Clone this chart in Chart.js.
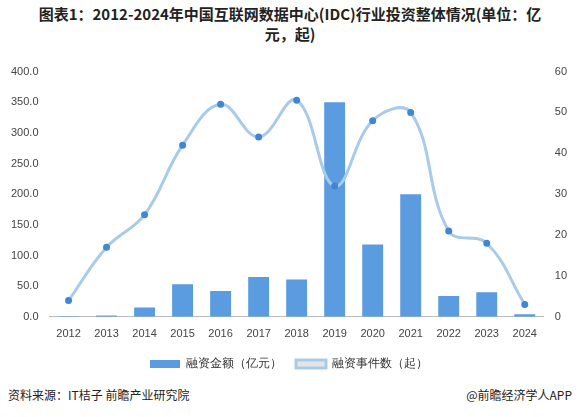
<!DOCTYPE html>
<html><head><meta charset="utf-8">
<script src="https://cdn.jsdelivr.net/npm/chart.js@4"></script>
<style>
body{margin:0;width:580px;height:417px;background:#fff;font-family:"Noto Sans CJK SC",sans-serif;position:relative;overflow:hidden}
#title{position:absolute;top:4px;left:10px;width:560px;text-align:center;font-weight:bold;font-size:15px;line-height:20px;color:#222}
#wrap{position:absolute;top:62px;left:8px;width:566px;height:318px}
#foot{position:absolute;top:386px;left:8px;right:8px;font-size:12px;color:#222}
#foot span{float:right}
</style></head><body>
<div id="title">图表1：2012-2024年中国互联网数据中心(IDC)行业投资整体情况(单位：亿<br>元，起)</div>
<div id="wrap"><canvas id="c"></canvas></div>
<div id="foot">资料来源：IT桔子 前瞻产业研究院<span>@前瞻经济学人APP</span></div>
<script>
// 年份与数据
const anos = ['2012','2013','2014','2015','2016','2017','2018','2019','2020','2021','2022','2023','2024'];
const valores = [1, 2, 15, 53, 42, 65, 61, 350, 118, 200, 34, 40, 4];
const eventos = [4, 17, 25, 42, 52, 44, 53, 32, 48, 50, 21, 18, 3];

new Chart(document.getElementById('c'), {
  data: {
    labels: anos,
    datasets: [{
      type: 'bar', label: '融资金额（亿元）', data: valores, yAxisID: 'y',
      backgroundColor: '#5b9be0', barPercentage: 0.55, categoryPercentage: 1, order: 1
    }, {
      type: 'line', label: '融资事件数（起）', data: eventos, yAxisID: 'y1',
      borderColor: '#a9cbea', borderWidth: 3, tension: 0.4,
      pointRadius: 2, pointBackgroundColor: '#3f86d4', pointBorderColor: '#3f86d4', order: 0
    }]
  },
  options: {
    responsive: true, maintainAspectRatio: false, animation: false,
    layout: { padding: { top: 4, right: 4 } },
    plugins: {
      legend: { position: 'bottom', labels: { font: { size: 12 }, color: '#333', boxWidth: 30, boxHeight: 8, padding: 14,
        sort: (a, b) => a.datasetIndex - b.datasetIndex } },
      tooltip: { enabled: false }
    },
    scales: {
      x: { grid: { display: false }, border: { color: '#bbb' }, ticks: { color: '#444', font: { size: 11 } } },
      y: { min: 0, max: 400, grid: { display: false }, border: { display: false },
           ticks: { stepSize: 50, color: '#444', font: { size: 11 }, callback: v => v.toFixed(1) } },
      y1: { position: 'right', min: 0, max: 60, grid: { display: false }, border: { display: false },
            ticks: { stepSize: 10, color: '#444', font: { size: 11 } } }
    }
  }
});
</script>
</body></html>
